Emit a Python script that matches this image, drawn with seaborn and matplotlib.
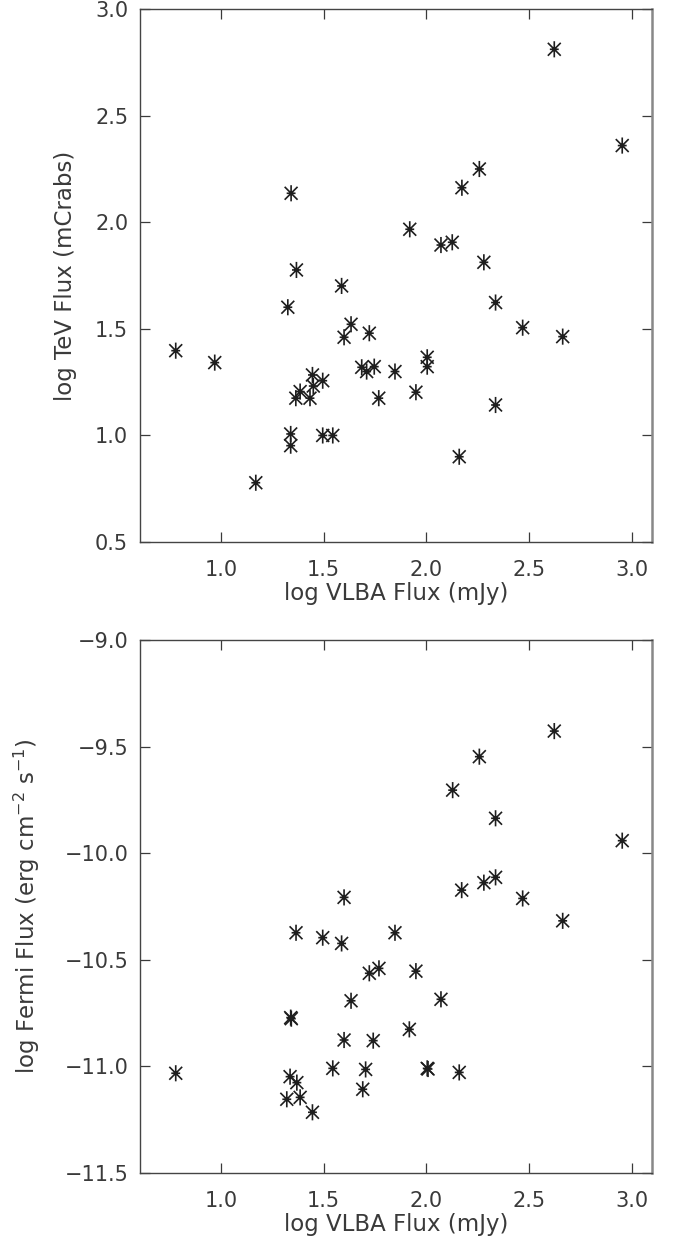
import numpy as np
import pandas as pd
import matplotlib
matplotlib.use("Agg")
import matplotlib.pyplot as plt
from matplotlib.path import Path
import seaborn as sns

# ---- data ----
tev_vlba = [2.623, 2.954, 2.258, 2.173, 1.341, 1.919, 2.071, 2.126, 2.280, 1.367,
            1.587, 1.325, 2.337, 1.633, 1.599, 1.722, 2.469, 2.664, 0.779, 0.969,
            2.004, 2.004, 1.685, 1.709, 1.746, 1.847, 1.445, 1.495, 1.449, 1.385,
            1.364, 1.433, 1.768, 1.949, 2.337, 1.339, 1.339, 1.495, 1.544, 2.160,
            1.169]
tev_flux = [2.813, 2.361, 2.251, 2.163, 2.137, 1.968, 1.894, 1.907, 1.813, 1.777,
            1.702, 1.602, 1.624, 1.522, 1.461, 1.480, 1.506, 1.464, 1.398, 1.342,
            1.367, 1.323, 1.320, 1.300, 1.323, 1.300, 1.284, 1.257, 1.232, 1.206,
            1.175, 1.175, 1.175, 1.203, 1.143, 1.007, 0.952, 1.000, 1.000, 0.900,
            0.778]

fermi_vlba = [2.623, 2.258, 2.128, 2.337, 2.954, 2.172, 2.280, 2.337, 2.469, 2.664,
              1.599, 1.365, 1.495, 1.587, 1.847, 1.722, 1.769, 1.949, 1.633, 2.071,
              1.339, 1.342, 1.917, 1.599, 1.741, 0.779, 1.544, 1.704, 2.004, 2.008,
              2.160, 1.336, 1.369, 1.690, 1.320, 1.385, 1.445]
fermi_flux = [-9.427, -9.547, -9.704, -9.836, -9.941, -10.173, -10.138, -10.113, -10.212, -10.317,
              -10.207, -10.373, -10.396, -10.423, -10.373, -10.563, -10.540, -10.553, -10.692, -10.685,
              -10.771, -10.776, -10.826, -10.876, -10.879, -11.032, -11.009, -11.014, -11.009, -11.012,
              -11.028, -11.048, -11.076, -11.107, -11.154, -11.145, -11.215]

x_ticks = [1.0, 1.5, 2.0, 2.5, 3.0]
tev_ticks = [0.5, 1.0, 1.5, 2.0, 2.5, 3.0]
fermi_ticks = [-11.5, -11.0, -10.5, -10.0, -9.5, -9.0]

# ---- style ----
sns.set_style("ticks")
plt.rcParams['font.family'] = ['DejaVu Sans']
plt.rcParams['text.color'] = '#3a3a3a'
plt.rcParams['axes.labelcolor'] = '#3a3a3a'
plt.rcParams['xtick.color'] = '#3a3a3a'
plt.rcParams['ytick.color'] = '#3a3a3a'

# IDL-like asterisk marker
verts = [(0, -1), (0, 1), (-0.8, -0.8), (0.8, 0.8), (-0.8, 0.8), (0.8, -0.8), (-0.55, 0), (0.55, 0)]
codes = [Path.MOVETO, Path.LINETO] * 4
star = Path(verts, codes)

fig = plt.figure(figsize=(6.83, 12.45), dpi=100)
ax1 = fig.add_axes([0.205, 0.5647, 0.749, 0.4277])
ax2 = fig.add_axes([0.205, 0.0578, 0.749, 0.4281])

df1 = pd.DataFrame({"vlba": tev_vlba, "tev": tev_flux})
df2 = pd.DataFrame({"vlba": fermi_vlba, "fermi": fermi_flux})

sns.scatterplot(data=df1, x="vlba", y="tev", ax=ax1, marker=star, s=135,
                facecolor="none", edgecolor="#1e1e1e", linewidth=1.2)
sns.scatterplot(data=df2, x="vlba", y="fermi", ax=ax2, marker=star, s=135,
                facecolor="none", edgecolor="#1e1e1e", linewidth=1.2)

for ax, yt, ylim, ylab, ylx in [
    (ax1, tev_ticks, (0.5, 3.0), "log TeV Flux (mCrabs)", -0.123),
    (ax2, fermi_ticks, (-11.5, -9.0), "log Fermi Flux (erg cm$^{-2}$ s$^{-1}$)", -0.191),
]:
    ax.set_xlim(0.605, 3.097)
    ax.set_ylim(*ylim)
    ax.set_xticks(x_ticks)
    ax.set_xticklabels([f"{v:.1f}" for v in x_ticks])
    ax.set_yticks(yt)
    ax.set_yticklabels([f"{v:.1f}".replace("-", "\u2212") for v in yt])
    ax.tick_params(direction="in", length=7.2, width=0.9, top=True, right=True,
                   labelsize=15)
    ax.tick_params(axis="x", pad=13)
    ax.tick_params(axis="y", pad=8.5)
    ax.set_xlabel("log VLBA Flux (mJy)", fontsize=16.5)
    ax.set_ylabel(ylab, fontsize=16.5)
    ax.xaxis.set_label_coords(0.5, -0.075)
    ax.yaxis.set_label_coords(ylx, 0.5)
    for side in ["left", "bottom", "top"]:
        ax.spines[side].set_color("#444444")
        ax.spines[side].set_linewidth(1.0)
    ax.spines["right"].set_color("#888888")
    ax.spines["right"].set_linewidth(1.8)

fig.savefig("out.png", dpi=100)
